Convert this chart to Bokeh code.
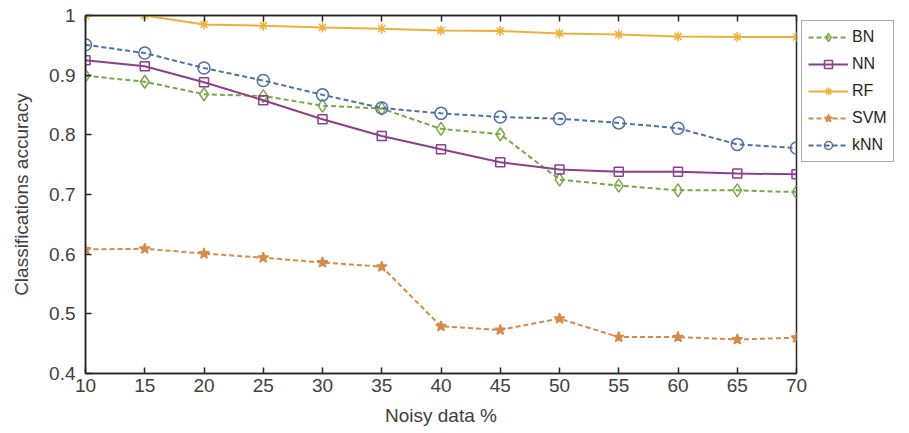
from bokeh.plotting import figure
from bokeh.models import LinearAxis, Legend, LegendItem, FixedTicker
from bokeh.embed import file_html
from bokeh.resources import INLINE

noise = [10, 15, 20, 25, 30, 35, 40, 45, 50, 55, 60, 65, 70]
bn = [0.899, 0.889, 0.868, 0.865, 0.849, 0.844, 0.810, 0.801, 0.725, 0.715, 0.707, 0.707, 0.704]
nn = [0.925, 0.915, 0.888, 0.858, 0.826, 0.798, 0.776, 0.754, 0.742, 0.738, 0.738, 0.735, 0.734]
rf = [1.000, 1.000, 0.985, 0.983, 0.980, 0.978, 0.975, 0.974, 0.970, 0.968, 0.965, 0.964, 0.964]
svm = [0.608, 0.609, 0.601, 0.594, 0.586, 0.579, 0.479, 0.473, 0.492, 0.461, 0.461, 0.457, 0.460]
knn = [0.951, 0.937, 0.912, 0.891, 0.867, 0.845, 0.836, 0.830, 0.827, 0.820, 0.811, 0.784, 0.778]

y_ticks = [0.4, 0.5, 0.6, 0.7, 0.8, 0.9, 1.0]
y_tick_labels = ["0.4", "0.5", "0.6", "0.7", "0.8", "0.9", "1"]
x_ticks = noise

FONT = "Liberation Sans"
AX = "#262626"
LBL = "#404040"

FW, FH = 711, 358
p = figure(width=893, height=425, frame_width=FW, frame_height=FH,
           x_range=(10, 70), y_range=(0.4, 1.0),
           output_backend="svg", toolbar_location=None,
           min_border_left=85, min_border_top=15, min_border_bottom=52, min_border_right=0)
p.grid.visible = False
p.outline_line_color = AX
p.outline_line_width = 1.5
p.background_fill_color = "white"
p.border_fill_color = "white"

for ax in [p.xaxis[0], p.yaxis[0]]:
    ax.axis_line_color = AX
    ax.axis_line_width = 1.5
    ax.major_tick_line_color = AX
    ax.major_tick_line_width = 1.5
    ax.major_tick_in = 6
    ax.major_tick_out = 0
    ax.minor_tick_line_color = None
    ax.major_label_text_font = FONT
    ax.major_label_text_font_size = "19px"
    ax.major_label_text_color = LBL
    ax.axis_label_text_font = FONT
    ax.axis_label_text_font_size = "19px"
    ax.axis_label_text_color = LBL
    ax.axis_label_text_font_style = "normal"

p.xaxis[0].ticker = FixedTicker(ticks=x_ticks)
p.yaxis[0].ticker = FixedTicker(ticks=y_ticks)
p.yaxis[0].major_label_overrides = {t: l for t, l in zip(y_ticks, y_tick_labels)}
p.xaxis[0].axis_label = "Noisy data %"
p.yaxis[0].axis_label = "Classifications accuracy"
p.xaxis[0].major_label_standoff = 5
p.yaxis[0].major_label_standoff = 10
p.xaxis[0].axis_label_standoff = 10
p.yaxis[0].axis_label_standoff = 14

top = LinearAxis(ticker=FixedTicker(ticks=x_ticks),
                 major_label_overrides={t: "" for t in x_ticks},
                 axis_line_color=AX, axis_line_width=1.5, major_tick_line_color=AX,
                 major_tick_line_width=1.5, major_tick_in=6, major_tick_out=0,
                 minor_tick_line_color=None, major_label_standoff=0)
p.add_layout(top, "above")

series = [
    ("BN", bn, "#78a84a", "5 3", "diamond", 13, False),
    ("NN", nn, "#8b3f8c", "solid", "square", 9, False),
    ("RF", rf, "#ebb23a", "solid", "asterisk", 10, True),
    ("SVM", svm, "#d88a48", "5 3", "star", 11, True),
    ("kNN", knn, "#4f70a6", "5 3", "circle", 12, False),
]
items = []
for name, vals, col, dash, mk, sz, filled in series:
    l = p.line(noise, vals, line_color=col, line_width=2, line_dash=dash)
    if filled:
        m = p.scatter(noise, vals, marker=mk, size=sz, line_color=col, fill_color=col, line_width=1.5)
    else:
        m = p.scatter(noise, vals, marker=mk, size=sz, line_color=col, fill_color="white",
                      fill_alpha=0.0, line_width=1.5)
    items.append(LegendItem(label=name, renderers=[l, m]))

legend = Legend(items=items, location="top_left", margin=5, padding=6, spacing=7,
                glyph_width=40, glyph_height=20, label_text_font=FONT,
                label_text_font_size="16px", label_text_color="#262626",
                border_line_color="#555555", border_line_width=1.5, label_standoff=4)
p.add_layout(legend, "right")

open("out.html", "w").write(file_html(p, INLINE))
